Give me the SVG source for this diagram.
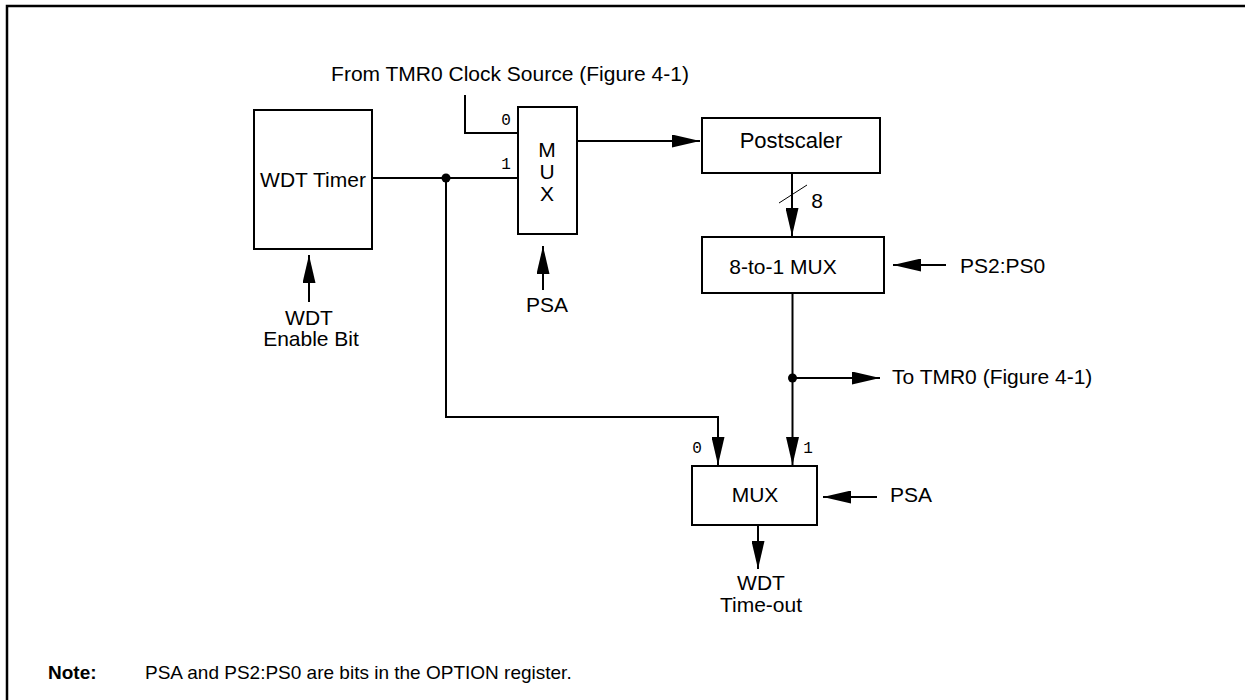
<svg xmlns="http://www.w3.org/2000/svg" width="1245" height="700" viewBox="0 0 1245 700">
<style>
.box{fill:#fff;stroke:#000;stroke-width:2}
.wire{fill:none;stroke:#000;stroke-width:2}
.t{font-family:"Liberation Sans",Arial,sans-serif;font-size:21px;fill:#000}
.m{font-family:"Liberation Mono","Courier New",monospace;font-size:16px;fill:#000}
.n{font-family:"Liberation Sans",Arial,sans-serif;font-size:19px;fill:#000}
</style>
<defs>
<marker id="ah" viewBox="0 0 28 13" refX="28" refY="6.5" markerWidth="28" markerHeight="13" markerUnits="userSpaceOnUse" orient="auto">
<path d="M0,0 L28,6.5 L0,13 z" fill="#000"/>
</marker>
</defs>
<rect width="1245" height="700" fill="#fff"/>
<path d="M7,700 V6 H1245" fill="none" stroke="#000" stroke-width="2.5"/>

<g id="connectors">
<polyline class="wire" points="465,95 465,133 518,133"/>
<line class="wire" x1="372" y1="178" x2="518" y2="178"/>
<line class="wire" x1="577" y1="141" x2="700" y2="141" marker-end="url(#ah)"/>
<line class="wire" x1="543" y1="290" x2="543" y2="246" marker-end="url(#ah)"/>
<line class="wire" x1="309" y1="302" x2="309" y2="255" marker-end="url(#ah)"/>
<line class="wire" x1="792" y1="173" x2="792" y2="236" marker-end="url(#ah)"/>
<line x1="779" y1="203" x2="807" y2="185" stroke="#000" stroke-width="1"/>
<line class="wire" x1="946" y1="265" x2="893" y2="265" marker-end="url(#ah)"/>
<line class="wire" x1="792.5" y1="293" x2="792.5" y2="465" marker-end="url(#ah)"/>
<line class="wire" x1="792.5" y1="378" x2="880" y2="378" marker-end="url(#ah)"/>
<polyline class="wire" points="446,178 446,417 718,417 718,465" marker-end="url(#ah)"/>
<line class="wire" x1="877" y1="497" x2="823" y2="497" marker-end="url(#ah)"/>
<line class="wire" x1="758" y1="525" x2="758" y2="569" marker-end="url(#ah)"/>
<circle cx="446" cy="178" r="4.5" fill="#000"/>
<circle cx="792.5" cy="378" r="4.5" fill="#000"/>
</g>

<g id="clock-source">
<text class="t" x="510" y="81" text-anchor="middle">From TMR0 Clock Source (Figure 4-1)</text>
</g>

<g id="wdt-timer">
<rect class="box" x="254" y="110" width="118" height="139"/>
<text class="t" x="313" y="187" text-anchor="middle">WDT Timer</text>
</g>

<g id="wdt-enable">
<text class="t" x="309" y="325" text-anchor="middle">WDT</text>
<text class="t" x="311" y="346" text-anchor="middle">Enable Bit</text>
</g>

<g id="mux1">
<rect class="box" x="518" y="107" width="59" height="127"/>
<text class="t" x="547" y="157" text-anchor="middle">M</text>
<text class="t" x="547" y="179" text-anchor="middle">U</text>
<text class="t" x="547" y="201" text-anchor="middle">X</text>
<text class="m" x="506" y="125" text-anchor="middle">0</text>
<text class="m" x="506" y="169" text-anchor="middle">1</text>
</g>

<g id="psa1">
<text class="t" x="547" y="312" text-anchor="middle">PSA</text>
</g>

<g id="postscaler">
<rect class="box" x="702" y="118" width="178" height="55"/>
<text class="t" x="791" y="148" text-anchor="middle" style="font-size:22px">Postscaler</text>
<text class="t" x="817" y="208" text-anchor="middle">8</text>
</g>

<g id="mux8">
<rect class="box" x="702" y="237" width="182" height="56"/>
<text class="t" x="783" y="274" text-anchor="middle">8-to-1 MUX</text>
</g>

<g id="ps-bits">
<text class="t" x="960" y="273">PS2:PS0</text>
</g>

<g id="to-tmr0">
<text class="t" x="892" y="384">To TMR0 (Figure 4-1)</text>
</g>

<g id="mux2">
<rect class="box" x="692" y="466" width="125" height="59"/>
<text class="t" x="755" y="502" text-anchor="middle">MUX</text>
<text class="m" x="697" y="453" text-anchor="middle">0</text>
<text class="m" x="808" y="453" text-anchor="middle">1</text>
</g>

<g id="psa2">
<text class="t" x="890" y="502">PSA</text>
</g>

<g id="timeout">
<text class="t" x="761" y="590" text-anchor="middle">WDT</text>
<text class="t" x="761" y="612" text-anchor="middle">Time-out</text>
</g>

<g id="note">
<text class="n" x="48" y="679" font-weight="bold">Note:</text>
<text class="n" x="145" y="679">PSA and PS2:PS0 are bits in the OPTION register.</text>
</g>
</svg>
